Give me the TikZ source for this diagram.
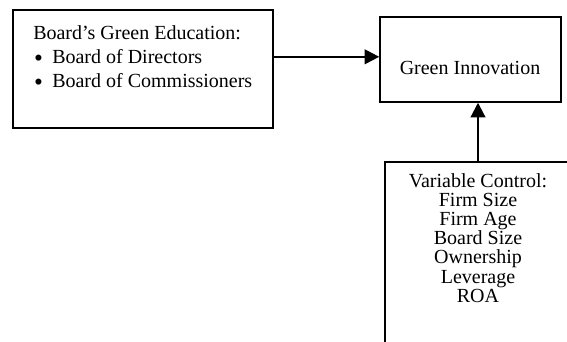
\documentclass[tikz,border=0pt]{standalone}
\usepackage{fontspec}
\setmainfont{Liberation Serif}
\usetikzlibrary{arrows.meta,calc}
\begin{document}
\begin{tikzpicture}[x=0.75pt,y=-0.75pt,
  box/.style={draw,line width=1.1pt,inner sep=0pt},
  arr/.style={line width=1.6pt,-{Triangle[length=11pt,width=11pt]}},
  txt/.style={font=\fontsize{15}{18}\selectfont,inner sep=0pt},
  bul/.style={font=\fontsize{19}{19}\selectfont,inner sep=0pt,text height=0.6em,text depth=0pt,anchor=base}]
\useasboundingbox (0,0) rectangle (567,342);
\clip (0,0) rectangle (567,342);
% boxes
\node[box,minimum width=195pt,minimum height=88.5pt] (lbox) at (143,69) {};
\node[box,minimum width=135.75pt,minimum height=63.75pt] (gi) at (470.5,59.5) {};
\node[box,minimum width=176.25pt,minimum height=193.5pt] (ctrl) at (502.5,291) {};
% left box text
\node[txt,anchor=base west] (l0) at (33,40) {Board’s Green Education:};
\node[bul] (bul1) at (38.5,66.5) {\textbullet};
\node[txt,anchor=base west] (l1) at (52,64) {Board of Directors};
\node[bul] (bul2) at (38.5,90.5) {\textbullet};
\node[txt,anchor=base west] (l2) at (52,88) {Board of Commissioners};
% green innovation text
\node[txt,anchor=base] (git) at (470,75) {Green Innovation};
% control text
\node[txt,anchor=base] (c1) at (478,187) {Variable Control:};
\node[txt,anchor=base] (c2) at (478,206) {Firm Size};
\node[txt,anchor=base] (c3) at (478,225) {Firm Age};
\node[txt,anchor=base] (c4) at (478,244) {Board Size};
\node[txt,anchor=base] (c5) at (478,263) {Ownership};
\node[txt,anchor=base] (c6) at (478,283) {Leverage};
\node[txt,anchor=base] (c7) at (478,302) {ROA};
% connectors
\coordinate (a1) at ($(lbox.north east)!0.398!(lbox.south east)$);
\draw[arr] (a1) -- (a1 -| gi.west);
\draw[arr] (c1 |- ctrl.north) -- (c1 |- gi.south);
\end{tikzpicture}
\end{document}
